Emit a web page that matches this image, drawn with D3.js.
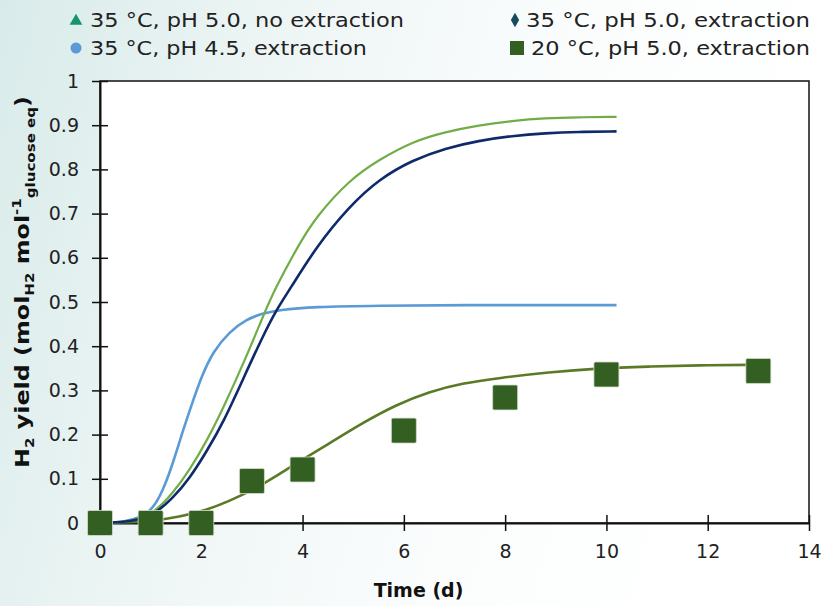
<!DOCTYPE html>
<html>
<head>
<meta charset="utf-8">
<script src="https://cdn.jsdelivr.net/npm/d3@7"></script>
<style>
  html, body { margin: 0; padding: 0; background: #fff; }
  svg { display: block; }
</style>
</head>
<body>
<div id="graph"></div>
<script>
// 35 °C, pH 5.0, no extraction (model fit)
const noExtraction = [
  [0, 0], [0.5, 0.002], [1, 0.015], [1.44, 0.067], [1.77, 0.12], [2.1, 0.184],
  [2.43, 0.259], [2.89, 0.376], [3.21, 0.465], [3.44, 0.527], [3.94, 0.633],
  [4.27, 0.693], [4.92, 0.776], [5.51, 0.822], [6.17, 0.863], [6.82, 0.885],
  [7.48, 0.9], [8.14, 0.91], [8.79, 0.916], [9.45, 0.918], [10.2, 0.919]
];
// 35 °C, pH 5.0, extraction (model fit)
const ph50Extraction = [
  [0, 0], [0.5, 0.002], [1, 0.012], [1.44, 0.056], [1.77, 0.101], [2.1, 0.161],
  [2.43, 0.226], [2.89, 0.342], [3.21, 0.421], [3.48, 0.482], [3.74, 0.527],
  [4.27, 0.625], [4.92, 0.716], [5.51, 0.778], [6.17, 0.821], [6.82, 0.848],
  [7.48, 0.865], [8.14, 0.876], [8.79, 0.882], [9.45, 0.885], [10.2, 0.886]
];
// 35 °C, pH 4.5, extraction (model fit)
const ph45Extraction = [
  [0, 0], [0.5, 0.002], [1, 0.02], [1.25, 0.075], [1.44, 0.135], [1.64, 0.21],
  [1.84, 0.278], [2.0, 0.33], [2.23, 0.388], [2.56, 0.433], [2.89, 0.461],
  [3.21, 0.474], [3.54, 0.482], [4.2, 0.489], [5.5, 0.492], [7, 0.493], [10.2, 0.493]
];
// 20 °C, pH 5.0, extraction (model fit + measured points)
const t20Fit = [
  [0, 0], [1, 0.003], [1.57, 0.014], [2.1, 0.029], [2.56, 0.05], [3.02, 0.075],
  [3.54, 0.11], [3.87, 0.135], [4.53, 0.18], [5.18, 0.226], [5.84, 0.267],
  [6.5, 0.297], [7.15, 0.316], [7.87, 0.328], [8.86, 0.341], [9.84, 0.35],
  [10.83, 0.354], [11.81, 0.357], [13, 0.358]
];
const t20Days = [0, 1, 2, 3, 4, 6, 8, 10, 13];
const t20Yield = [0, 0, 0, 0.095, 0.121, 0.209, 0.284, 0.336, 0.344];

const xTicks = [0, 2, 4, 6, 8, 10, 12, 14];
const yTicks = [0, 0.1, 0.2, 0.3, 0.4, 0.5, 0.6, 0.7, 0.8, 0.9, 1];

const legendItems = [
  {label: "35 °C, pH 5.0, no extraction", shape: "triangle", color: "#16936f", col: 0, row: 0, len: 314},
  {label: "35 °C, pH 5.0, extraction", shape: "diamond", color: "#154b5c", col: 1, row: 0, len: 284},
  {label: "35 °C, pH 4.5, extraction", shape: "circle", color: "#5b9bd5", col: 0, row: 1, len: 277},
  {label: "20 °C, pH 5.0, extraction", shape: "square", color: "#335f22", col: 1, row: 1, len: 279}
];

const width = 823, height = 606;
const font = "'DejaVu Sans', sans-serif";

const svg = d3.select('#graph').append('svg')
  .attr('width', width).attr('height', height);

// soft background
const defs = svg.append('defs');
const bg = defs.append('linearGradient').attr('id', 'bg')
  .attr('x1', '0').attr('y1', '0').attr('x2', '1').attr('y2', '0.2');
bg.append('stop').attr('offset', '0').attr('stop-color', '#d8ebea');
bg.append('stop').attr('offset', '0.35').attr('stop-color', '#eef6f5');
bg.append('stop').attr('offset', '0.7').attr('stop-color', '#fbfdfd');
bg.append('stop').attr('offset', '1').attr('stop-color', '#ffffff');
svg.append('rect').attr('width', width).attr('height', height).attr('fill', 'url(#bg)');

const x = d3.scaleLinear().domain([0, 14]).range([100, 809]);
const y = d3.scaleLinear().domain([0, 1]).range([523, 81]);

// plot area
svg.append('rect')
  .attr('x', x(0)).attr('y', y(1))
  .attr('width', x(14) - x(0)).attr('height', y(0) - y(1))
  .attr('fill', '#fff')
  .attr('stroke', '#111').attr('stroke-width', 1.5);

// axes
const xAxis = svg.append('g')
  .attr('transform', `translate(0,${y(0)})`)
  .call(d3.axisBottom(x).tickValues(xTicks).tickSize(8).tickSizeOuter(0).tickFormat(d3.format('d')));
xAxis.selectAll('.tick line').attr('y1', -8).attr('y2', 8).attr('stroke', '#111').attr('stroke-width', 1.5);
xAxis.select('.domain').attr('stroke', '#111').attr('stroke-width', 2);
xAxis.selectAll('.tick text')
  .attr('y', 22).attr('font-family', font).attr('font-size', 19).attr('fill', '#222');

const yAxis = svg.append('g')
  .attr('transform', `translate(${x(0)},0)`)
  .call(d3.axisLeft(y).tickValues(yTicks).tickSize(8).tickSizeOuter(0).tickFormat(d3.format('~g')));
yAxis.selectAll('.tick line').attr('x1', -8).attr('x2', 8).attr('stroke', '#111').attr('stroke-width', 1.5);
yAxis.select('.domain').attr('stroke', '#111').attr('stroke-width', 2);
yAxis.selectAll('.tick text')
  .attr('x', -21).attr('font-family', font).attr('font-size', 19).attr('fill', '#222');

// lines
const line = d3.line()
  .x(d => x(d[0]))
  .y(d => y(d[1]))
  .curve(d3.curveBasis);

const series = [
  {data: t20Fit, color: '#5b7a25', w: 2.6},
  {data: ph45Extraction, color: '#5b9bd5', w: 2.6},
  {data: noExtraction, color: '#70ad47', w: 2.2},
  {data: ph50Extraction, color: '#0f2a6a', w: 2.6}
];
series.forEach(s => {
  svg.append('path')
    .datum(s.data)
    .attr('d', line)
    .attr('fill', 'none')
    .attr('stroke', s.color)
    .attr('stroke-width', s.w);
});

// measured points (20 °C)
const pts = t20Days.map((d, i) => [d, t20Yield[i]]);
svg.append('g').selectAll('rect').data(pts).enter().append('rect')
  .attr('x', d => x(d[0]) - 12.5)
  .attr('y', d => y(d[1]) - 12.5)
  .attr('width', 25).attr('height', 25)
  .attr('rx', 1.5)
  .attr('fill', '#335f22')
  .attr('stroke', '#d4e0cc').attr('stroke-width', 0.8);

// axis titles
svg.append('text')
  .attr('x', (x(0) + x(14)) / 2 - 36).attr('y', 597)
  .attr('text-anchor', 'middle')
  .attr('font-family', font).attr('font-weight', 'bold').attr('font-size', 19)
  .attr('fill', '#111')
  .text('Time (d)');

const yTitle = svg.append('text')
  .attr('transform', 'translate(29,468) rotate(-90)')
  .attr('font-family', font).attr('font-weight', 'bold').attr('font-size', 19)
  .attr('fill', '#111')
  .attr('textLength', 372).attr('lengthAdjust', 'spacingAndGlyphs');
yTitle.append('tspan').text('H');
yTitle.append('tspan').attr('font-size', 12).attr('dy', 5).text('2');
yTitle.append('tspan').attr('dy', -5).text(' yield (mol');
yTitle.append('tspan').attr('font-size', 12).attr('dy', 5).text('H2');
yTitle.append('tspan').attr('dy', -5).text(' mol');
yTitle.append('tspan').attr('font-size', 12).attr('dy', -8).text('-1');
yTitle.append('tspan').attr('font-size', 12).attr('dy', 14).text('glucose eq');
yTitle.append('tspan').attr('dy', -6).text(')');

// legend
const colX = [76, 515];
const rowY = [20, 48];
const legend = svg.append('g');
legendItems.forEach(item => {
  const cx = colX[item.col], cy = rowY[item.row];
  const g = legend.append('g');
  if (item.shape === 'triangle') {
    g.append('path').attr('d', d3.symbol(d3.symbolTriangle, 70)())
      .attr('transform', `translate(${cx},${cy + 1})`).attr('fill', item.color);
  } else if (item.shape === 'diamond') {
    g.append('path').attr('d', d3.symbol(d3.symbolDiamond, 60)())
      .attr('transform', `translate(${cx},${cy})`).attr('fill', item.color);
  } else if (item.shape === 'circle') {
    g.append('circle').attr('cx', cx).attr('cy', cy).attr('r', 5.5).attr('fill', item.color);
  } else {
    g.append('rect').attr('x', cx - 5).attr('y', cy - 7).attr('width', 14).attr('height', 14)
      .attr('fill', item.color);
  }
  const tx = item.shape === 'square' ? cx + 16 : (item.col === 0 ? cx + 14 : cx + 11);
  g.append('text')
    .attr('x', tx)
    .attr('y', cy + 7)
    .attr('font-family', font).attr('font-size', 19).attr('fill', '#222')
    .attr('textLength', item.len).attr('lengthAdjust', 'spacingAndGlyphs')
    .text(item.label);
});
</script>
</body>
</html>
